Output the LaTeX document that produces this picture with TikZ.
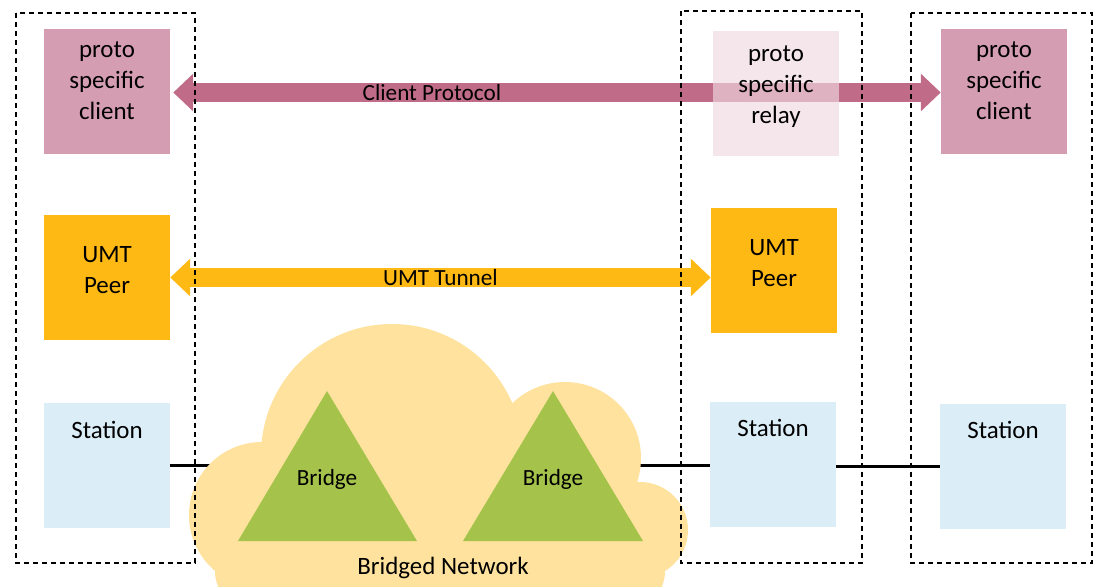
\documentclass[tikz,border=0pt]{standalone}
\usepackage{fontspec}
\setmainfont{Carlito}
\usetikzlibrary{arrows.meta}

\newlength\px
\setlength\px{0.02cm}
\newcommand\boxfont{\fontsize{14.2}{17.6}\selectfont}
\newcommand\lblfont{\fontsize{13.2}{16}\selectfont}

\definecolor{clientpink}{RGB}{213,157,177}
\definecolor{protopink}{RGB}{192,108,136}
\definecolor{relaypink}{RGB}{240,216,224}
\definecolor{umtorange}{RGB}{255,185,21}
\definecolor{stationblue}{RGB}{219,238,248}
\definecolor{bridgegreen}{RGB}{165,194,75}
\definecolor{cloudyellow}{RGB}{254,226,158}

\begin{document}
\begin{tikzpicture}[x=0.02cm, y=-0.02cm,
                    box/.style={rectangle, inner sep=0pt, minimum width=126\px, minimum height=125\px},
                    boxtext/.style={align=center, font=\boxfont, inner sep=0pt},
                    client/.style={box, fill=clientpink},
                    relay/.style={box, fill=relaypink, fill opacity=0.65},
                    peer/.style={box, fill=umtorange},
                    station/.style={box, fill=stationblue},
                    frame/.style={line width=1.5\px, dash pattern=on 5\px off 4\px},
                    fatarrow/.style={line width=10.8pt, {Triangle[width=21.5pt, length=11.3pt, line width=0pt]}-{Triangle[width=21.5pt, length=11.3pt, line width=0pt]}},
                    wire/.style={line width=3\px}]

	\useasboundingbox (0,0) rectangle (1103,586);

	% stations and the wire behind the cloud
	\node[station, label={[boxtext, yshift=35.5\px]center:Station}] (station1) at (107,465.5) {};
	\node[station, label={[boxtext, yshift=36\px]center:Station}] (station2) at (773,464) {};
	\node[station, label={[boxtext, yshift=36\px]center:Station}] (station3) at (1003,466) {};

	\draw[wire] (station1.east) -- (station1.east -| station2.west);
	\draw[wire] (station3.west -| station2.east) -- (station3.west);

	% bridged network cloud
	\fill[cloudyellow] (392,455) circle (131);
	\fill[cloudyellow] (565,458) circle (76);
	\fill[cloudyellow] (262,515) circle (73);
	\fill[cloudyellow] (640,530) circle (48);
	\fill[cloudyellow, rounded corners=22pt] (215,480) rectangle (665,610);

	\fill[bridgegreen] (327,391) -- (417,541) -- (238,541) -- cycle;
	\fill[bridgegreen] (553,391) -- (643,541) -- (463,541) -- cycle;

	\node[font=\lblfont] (bridge1) at (327,479) {Bridge};
	\node[font=\lblfont] (bridge2) at (553,479) {Bridge};
	\node[font=\boxfont] (bridged) at (443,568) {Bridged Network};

	% UMT peers
	\node[peer, label={[boxtext, yshift=7.5\px]center:{UMT\\Peer}}] (peer1) at (107,277.5) {};
	\node[peer, label={[boxtext, yshift=7.5\px]center:{UMT\\Peer}}] (peer2) at (774,270.5) {};

	\draw[fatarrow, umtorange] (peer1.east) -- (peer1.east -| peer2.west) node[midway, black, font=\lblfont] {UMT Tunnel};

	% clients and relay
	\node[client, label={[boxtext, yshift=10\px]center:{proto\\specific\\client}}] (client1) at (107,91) {};
	\node[client, label={[boxtext, yshift=10\px]center:{proto\\specific\\client}}] (client2) at (1004,91) {};

	\draw[fatarrow, protopink] ([xshift=3\px, yshift=-1.5\px]client1.east) -- ([yshift=-1.5\px]client1.east -| client2.west) node[pos=0.337, black, font=\lblfont] {Client Protocol};

	\node[relay, label={[boxtext, yshift=6\px]center:{proto\\specific\\relay}}] (relay) at (776,93) {};

	% system borders
	\draw[frame] (16,13) rectangle (195,563);
	\draw[frame] (681,11) rectangle (862,563);
	\draw[frame] (911,13) rectangle (1092,563);

\end{tikzpicture}
\end{document}
